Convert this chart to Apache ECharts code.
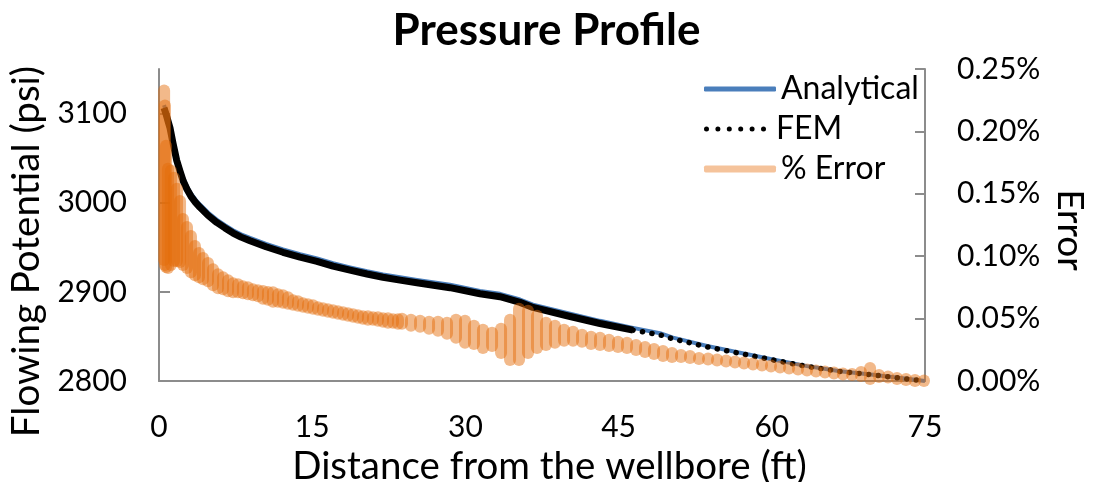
<!DOCTYPE html>
<html>
<head>
<meta charset="utf-8">
<script src="https://cdn.jsdelivr.net/npm/echarts@6/dist/echarts.min.js"></script>
<style>
  html, body { margin: 0; padding: 0; background: #ffffff; }
  #chart { width: 1093px; height: 482px; }
</style>
</head>
<body>
<div id="chart"></div>
<script>
// Distance from the wellbore (ft) for the pressure curves
const distance = [0.49, 0.69, 0.88, 1.08, 1.37, 1.73, 2.06, 2.38, 2.74, 3.13, 3.57, 4.01, 4.80, 5.65, 6.46, 7.25, 8.03, 8.91,
  10.48, 12.14, 13.81, 15.47, 17.04, 18.70, 20.37, 21.93, 23.60, 25.26, 28.49, 31.43, 33.39, 35.35, 36.62, 39.95, 43.18, 46.41, 49.05,
  50.33, 53.66, 56.89, 60.12, 63.45, 66.68, 69.91, 73.24, 75.00];

// Flowing potential, analytical solution (psi)
const analytical = [3109.5, 3102.7, 3094.9, 3087.0, 3070.1, 3050.9, 3038.6, 3027.3, 3018.3, 3010.4, 3003.6, 2998.0, 2989.0, 2981.1, 2974.9, 2969.2, 2964.6, 2960.5,
  2953.8, 2947.6, 2942.2, 2937.5, 2932.1, 2927.5, 2923.2, 2919.6, 2916.4, 2913.4, 2907.9, 2901.1, 2897.8, 2891.4, 2885.7, 2876.4, 2867.5, 2859.6, 2853.6,
  2848.7, 2839.3, 2831.7, 2824.1, 2816.7, 2811.0, 2807.0, 2802.4, 2800];

// Flowing potential, finite element solution (psi)
const fem = [3106.3, 3099.5, 3091.7, 3083.8, 3066.9, 3047.7, 3035.4, 3024.1, 3015.1, 3007.2, 3000.4, 2994.8, 2985.8, 2977.9, 2971.7, 2966.0, 2961.4, 2957.3,
  2950.6, 2944.4, 2939.0, 2934.3, 2928.9, 2924.3, 2920.0, 2916.4, 2913.2, 2910.2, 2904.7, 2897.9, 2894.6, 2888.2, 2882.5, 2873.2, 2864.5, 2857.1, 2851.8,
  2847.3, 2838.3, 2831.0, 2823.6, 2816.3, 2810.7, 2806.8, 2802.3, 2800];

// % error between the two solutions: spread (low / high) at each node position
const errX = [0.50, 0.58, 0.69, 0.88, 1.17, 1.47, 1.76, 2.06, 2.35, 2.74, 3.13, 3.52, 3.92, 4.31, 4.80, 5.29, 5.78, 6.27, 6.76, 7.25, 7.74, 8.22, 8.71, 9.20, 9.69,
  10.18, 10.67, 11.16, 11.65, 12.14, 12.63, 13.12, 13.61, 14.10, 14.59, 15.08, 15.57, 16.06, 16.55, 17.04, 17.53, 18.02, 18.51, 19.00, 19.49, 19.97, 20.46, 20.95, 21.44, 21.93, 22.42, 22.91, 23.40,
  23.79, 24.67, 25.56, 26.44, 27.32, 28.20, 29.08, 29.96, 30.84, 31.72, 32.61, 33.49, 34.37, 35.25, 36.13, 37.01, 37.89, 38.77, 39.66, 40.54,
  41.42, 42.30, 43.18, 44.06, 44.94, 45.82, 46.71, 47.59, 48.47, 49.35, 50.23, 51.11, 51.99, 52.87, 53.76, 54.64, 55.52, 56.40, 57.28, 58.16,
  59.04, 59.92, 60.81, 61.69, 62.57, 63.45, 64.33, 65.21, 66.09, 66.97, 67.86, 68.74, 69.62, 70.50, 71.38, 72.26, 73.14, 74.02, 74.90];
const errHi = [0.2327, 0.2207, 0.1885, 0.1700, 0.1684, 0.1628, 0.1540, 0.1443, 0.1298, 0.1234, 0.1162, 0.1081, 0.1025, 0.0985, 0.0945, 0.0896, 0.0856, 0.0832, 0.0808, 0.0784, 0.0776, 0.0760, 0.0752, 0.0736, 0.0728,
  0.0722, 0.0714, 0.0712, 0.0695, 0.0687, 0.0671, 0.0647, 0.0639, 0.0623, 0.0615, 0.0607, 0.0591, 0.0583, 0.0575, 0.0567, 0.0559, 0.0551, 0.0543, 0.0535, 0.0527, 0.0519, 0.0519, 0.0511, 0.0511, 0.0503, 0.0503, 0.0495, 0.0495,
  0.0498, 0.0490, 0.0482, 0.0474, 0.0474, 0.0466, 0.0490, 0.0482, 0.0442, 0.0410, 0.0386, 0.0418, 0.0490, 0.0579, 0.0563, 0.0523, 0.0466, 0.0442, 0.0410, 0.0394,
  0.0370, 0.0354, 0.0346, 0.0330, 0.0314, 0.0306, 0.0289, 0.0273, 0.0257, 0.0241, 0.0225, 0.0209, 0.0201, 0.0185, 0.0181, 0.0173, 0.0165, 0.0157, 0.0149, 0.0141,
  0.0133, 0.0125, 0.0117, 0.0109, 0.0100, 0.0092, 0.0084, 0.0076, 0.0068, 0.0060, 0.0056, 0.0072, 0.0105, 0.0048, 0.0036, 0.0024, 0.0016, 0.0008, 0.0004];
const errLo = [0.0969, 0.0929, 0.0913, 0.0905, 0.0929, 0.0961, 0.0961, 0.0953, 0.0929, 0.0905, 0.0872, 0.0848, 0.0832, 0.0816, 0.0800, 0.0768, 0.0744, 0.0736, 0.0720, 0.0712, 0.0712, 0.0704, 0.0695, 0.0687, 0.0679,
  0.0659, 0.0651, 0.0635, 0.0635, 0.0627, 0.0619, 0.0611, 0.0603, 0.0595, 0.0587, 0.0579, 0.0571, 0.0563, 0.0555, 0.0547, 0.0539, 0.0531, 0.0523, 0.0515, 0.0507, 0.0499, 0.0491, 0.0491, 0.0483, 0.0475, 0.0467, 0.0467, 0.0459,
  0.0458, 0.0442, 0.0434, 0.0418, 0.0402, 0.0378, 0.0346, 0.0306, 0.0297, 0.0265, 0.0281, 0.0225, 0.0169, 0.0169, 0.0225, 0.0265, 0.0289, 0.0306, 0.0322, 0.0322,
  0.0314, 0.0297, 0.0289, 0.0281, 0.0273, 0.0265, 0.0249, 0.0233, 0.0217, 0.0201, 0.0193, 0.0193, 0.0185, 0.0177, 0.0173, 0.0165, 0.0157, 0.0149, 0.0141, 0.0133,
  0.0125, 0.0117, 0.0109, 0.0101, 0.0092, 0.0084, 0.0076, 0.0068, 0.0060, 0.0052, 0.0048, 0.0040, 0.0016, 0.0032, 0.0028, 0.0016, 0.0008, 0.0000, 0.0000];

// Tick values
const pressureTicks = [2800, 2900, 3000, 3100];
const distanceTicks = [0, 15, 30, 45, 60, 75];

const FONT = 'Lato, "Open Sans", sans-serif';
const AXIS_GREY = '#8c8c8c';
const TEXT = '#000000';

const pairs = (xs, ys) => xs.map((x, i) => [x, ys[i]]);
const analyticalData = pairs(distance, analytical);
const femData = pairs(distance, fem);
// FEM nodes get coarse far from the wellbore: the dense part reads as a solid band, the outer part as dots
const FEM_BREAK = 46.41;
const femNear = femData.filter(d => d[0] <= FEM_BREAK);
const femFar = femData.filter(d => d[0] >= FEM_BREAK);
const n = Math.min(errX.length, errLo.length, errHi.length);
const errData = [];
for (let i = 0; i < n; i++) errData.push([errX[i], errLo[i], errHi[i]]);

// Legend glyph for the dotted FEM line: a row of six round dots
let dotPath = '';
for (let k = 0; k < 6; k++) {
  const cx = 2.5 + k * 11.4;
  dotPath += `M${cx - 2.5},2.5 A2.5,2.5 0 1,1 ${cx + 2.5},2.5 A2.5,2.5 0 1,1 ${cx - 2.5},2.5 Z `;
}

const chart = echarts.init(document.getElementById('chart'), null, { renderer: 'canvas' });

const legendBase = {
  orient: 'horizontal',
  left: 699,
  itemWidth: 72,
  itemHeight: 5,
  selectedMode: false,
  textStyle: { fontFamily: FONT, fontSize: 32, color: TEXT }
};

chart.setOption({
  animation: false,
  backgroundColor: '#ffffff',
  title: {
    text: 'Pressure Profile',
    left: 'center',
    top: 4,
    textStyle: { fontFamily: FONT, fontSize: 44, fontWeight: 'bold', color: TEXT }
  },
  legend: [
    Object.assign({}, legendBase, { top: 68,
      data: [{ name: 'Analytical', icon: 'roundRect', itemStyle: { color: '#4A7EBB' } }] }),
    Object.assign({}, legendBase, { top: 108,
      data: [{ name: 'FEM', icon: 'path://' + dotPath, itemStyle: { color: '#000000' } }] }),
    Object.assign({}, legendBase, { top: 148, itemHeight: 7,
      data: [{ name: '% Error', icon: 'roundRect', itemStyle: { color: '#F5C39B' } }] })
  ],
  grid: { left: 159, right: 168, top: 69, bottom: 101, containLabel: false, outerBoundsMode: 'none' },
  xAxis: {
    type: 'value',
    min: 0, max: 75, interval: 15,
    name: 'Distance from the wellbore (ft)',
    nameLocation: 'middle',
    nameGap: 57,
    nameTextStyle: { fontFamily: FONT, fontSize: 38.5, color: TEXT, padding: [0, 0, 0, 15] },
    axisLine: { lineStyle: { color: AXIS_GREY, width: 2 } },
    axisTick: { show: false },
    splitLine: { show: false },
    axisLabel: { fontFamily: FONT, fontSize: 30, color: TEXT, margin: 31,
      customValues: distanceTicks }
  },
  yAxis: [
    {
      type: 'value',
      min: 2800, max: 3150,
      name: 'Flowing Potential (psi)',
      nameLocation: 'middle',
      nameGap: 109,
      nameTextStyle: { fontFamily: FONT, fontSize: 38.5, color: TEXT, padding: [0, 53, 0, 0] },
      axisLine: { show: true, lineStyle: { color: AXIS_GREY, width: 2 } },
      axisTick: { show: true, inside: true, length: 11, lineStyle: { color: AXIS_GREY, width: 2 },
        customValues: pressureTicks },
      splitLine: { show: false },
      axisLabel: { fontFamily: FONT, fontSize: 30, color: TEXT, margin: 32,
        customValues: pressureTicks, formatter: v => String(v) }
    },
    {
      type: 'value',
      position: 'right',
      min: 0, max: 0.25, interval: 0.05,
      name: 'Error',
      nameLocation: 'middle',
      nameGap: 109,
      nameRotate: -90,
      nameTextStyle: { fontFamily: FONT, fontSize: 37, color: TEXT, padding: [0, 0, 0, 10] },
      axisLine: { show: true, lineStyle: { color: AXIS_GREY, width: 2 } },
      axisTick: { show: true, inside: true, length: 10, lineStyle: { color: AXIS_GREY, width: 2 } },
      splitLine: { show: false },
      axisLabel: { fontFamily: FONT, fontSize: 30, color: TEXT, margin: 32,
        formatter: v => v.toFixed(2) + '%' }
    }
  ],
  series: [
    {
      name: 'Analytical',
      type: 'line',
      data: analyticalData,
      symbol: 'none',
      smooth: false,
      z: 2,
      lineStyle: { color: '#4A7EBB', width: 4, type: 'solid', join: 'round' },
      itemStyle: { color: '#4A7EBB' }
    },
    {
      name: 'FEM',
      type: 'line',
      data: femNear,
      symbol: 'none',
      smooth: false,
      z: 3,
      lineStyle: { color: '#000000', width: 7, type: 'solid', join: 'round' },
      itemStyle: { color: '#000000' }
    },
    {
      name: 'FEM',
      type: 'line',
      data: femFar,
      symbol: 'none',
      smooth: false,
      z: 3,
      lineStyle: { color: '#000000', width: 5.5, type: [0.1, 9.5], cap: 'round' },
      itemStyle: { color: '#000000' }
    },
    {
      name: '% Error',
      type: 'custom',
      yAxisIndex: 1,
      clip: false,
      z: 4,
      itemStyle: { color: '#F5C39B' },
      encode: { x: 0, y: [1, 2] },
      data: errData,
      renderItem: (params, api) => {
        const x = api.value(0);
        const a = api.coord([x, api.value(1)]);
        const b = api.coord([x, api.value(2)]);
        return {
          type: 'line',
          shape: { x1: a[0], y1: a[1], x2: b[0], y2: b[1] },
          style: { stroke: 'rgba(228,108,10,0.48)', lineWidth: 12, lineCap: 'round' }
        };
      }
    }
  ]
});
</script>
</body>
</html>
